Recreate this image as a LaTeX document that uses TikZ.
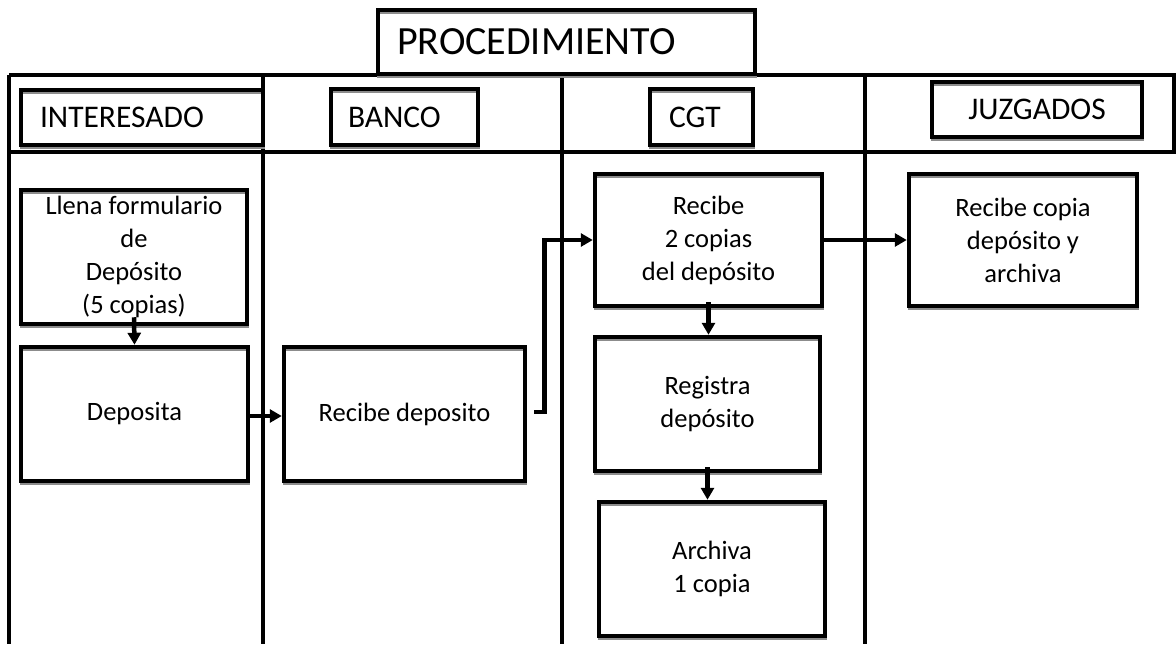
\documentclass[tikz,border=0pt]{standalone}
\usepackage{fontspec}
\setmainfont{Carlito}
\usetikzlibrary{arrows.meta,calc}
\begin{document}
\begin{tikzpicture}[x=1pt,y=-1pt,
  frame/.style={line width=4pt},
  boxbase/.style={draw, line width=4.5pt, rectangle, inner sep=0pt,
    preaction={draw=black!45, line width=3pt, transform canvas={shift={(0.8pt,-2.6pt)}}}},
  hbox/.style={boxbase, font=\fontsize{31.5}{36}\selectfont},
  pbox/.style={boxbase, align=center, font=\fontsize{26.5}{33}\selectfont},
  arr/.style={line width=4.5pt, -{Triangle[length=12pt,width=13pt]}}]
\useasboundingbox[fill=white] (0,0) rectangle (1176,646);
% lanes and frame
\draw[frame] (9,75) -- (1176,75);
\draw[frame] (9,152) -- (1176,152);
\draw[frame] (9,75) -- (9,644);
\draw[frame] (263,75) -- (263,644);
\draw[frame] (562,75) -- (562,644);
\draw[frame] (865,75) -- (865,644);
\draw[frame] (1174,75) -- (1174,152);
% title
\node[boxbase, font=\fontsize{40}{46}\selectfont, minimum width=377pt, minimum height=64pt,
      inner xsep=19pt, text width=339pt, align=left] (title) at (566.5,42) {PROCEDIMIENTO};
% headers
\node[hbox, minimum width=242pt, minimum height=55pt, inner xsep=19pt, text width=204pt, align=left]
  (hint) at (142,117.5) {INTERESADO};
\node[hbox, minimum width=147pt, minimum height=56pt, inner xsep=17pt, text width=113pt, align=left]
  (hban) at (404.5,117) {BANCO};
\node[hbox, minimum width=103pt, minimum height=56pt, inner xsep=19pt, text width=65pt, align=left]
  (hcgt) at (701.5,117) {CGT};
\node[hbox, minimum width=210pt, minimum height=55pt] (hjuz) at (1037,109.5) {JUZGADOS};
% process boxes
\node[pbox, minimum width=226pt, minimum height=134pt] (llena) at (134,257)
  {Llena formulario\\de\\Depósito\\(5 copias)};
\node[pbox, minimum width=227pt, minimum height=134pt] (deposita) at (134.5,414) {Deposita};
\node[pbox, minimum width=241pt, minimum height=134pt] (recdep) at (404.5,414) {Recibe deposito};
\node[pbox, minimum width=227pt, minimum height=132pt] (rec2) at (708.5,240)
  {Recibe\\2 copias\\del depósito};
\node[pbox, minimum width=225pt, minimum height=134pt] (registra) at (707.5,404)
  {Registra\\depósito};
\node[pbox, minimum width=226pt, minimum height=134pt] (archiva) at (712,569)
  {Archiva\\1 copia};
\node[pbox, minimum width=228pt, minimum height=132pt] (reccopia) at (1023,240)
  {Recibe copia\\depósito y\\archiva};
% connectors
\draw[arr] ([yshift=9pt]llena.south) -- (deposita.north);
\draw[arr] ([yshift=-2pt]deposita.east) -- ([yshift=-2pt]recdep.west);
\draw[arr] ([shift={(7pt,2pt)}]recdep.east) -- ++(10,0) |- (rec2.west);
\draw[arr] ([xshift=-3pt]rec2.east) -- (reccopia.west);
\draw[arr] ([yshift=6pt]rec2.south) -- (rec2.south |- registra.north);
\draw[arr] ([yshift=6pt]registra.south) -- (registra.south |- archiva.north);
\end{tikzpicture}
\end{document}
